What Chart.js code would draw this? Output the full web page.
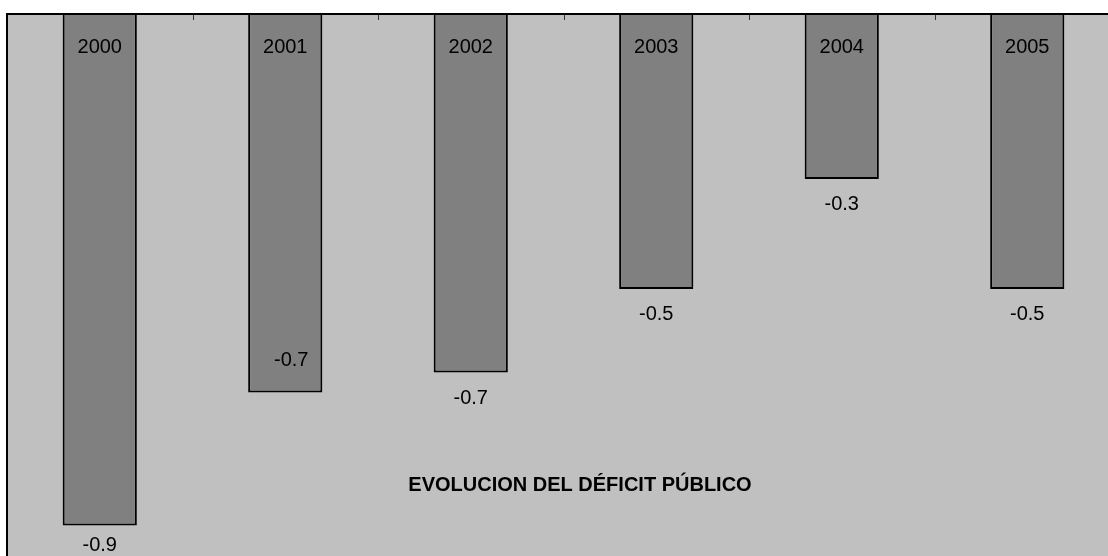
<!DOCTYPE html>
<html>
<head>
<meta charset="utf-8">
<script src="https://cdn.jsdelivr.net/npm/chart.js@4/dist/chart.umd.min.js"></script>
<style>
  html,body{margin:0;padding:0;background:#fff;overflow:hidden;width:1108px;height:556px;}
  #chart{position:absolute;left:0;top:0;}
</style>
</head>
<body>
<canvas id="chart" width="1122" height="566" style="width:1122px;height:566px"></canvas>
<script>
// datos del gráfico
const years = ['2000','2001','2002','2003','2004','2005'];
const deficit = [-0.93, -0.688, -0.652, -0.5, -0.3, -0.5];
const chartTitle = 'EVOLUCION DEL DÉFICIT PÚBLICO';

const FONT = '"Liberation Sans", Arial, sans-serif';

// fondo gris, ejes, marcas y textos
const decorPlugin = {
  id:'decor',
  beforeDatasetsDraw(chart){
    const {ctx, chartArea:a} = chart;
    ctx.save();
    ctx.fillStyle = '#C0C0C0';
    ctx.fillRect(a.left, a.top, a.right-a.left, a.bottom-a.top);
    ctx.restore();
  },
  afterDatasetsDraw(chart){
    const {ctx, chartArea:a, scales} = chart;
    const xs = scales.x;
    const meta = chart.getDatasetMeta(0);
    ctx.save();
    // marcas entre categorías
    ctx.strokeStyle = '#333';
    ctx.lineWidth = 1;
    for(let i=1;i<years.length;i++){
      const x = Math.round((xs.getPixelForValue(i-1)+xs.getPixelForValue(i))/2)+0.5;
      ctx.beginPath(); ctx.moveTo(x, a.top); ctx.lineTo(x, a.top+6); ctx.stroke();
    }
    // bordes superior e izquierdo
    ctx.strokeStyle = '#000';
    ctx.lineWidth = 2;
    ctx.beginPath();
    ctx.moveTo(a.left, chart.height);
    ctx.lineTo(a.left, a.top);
    ctx.lineTo(chart.width, a.top);
    ctx.stroke();

    ctx.fillStyle = '#000';
    ctx.font = '20px ' + FONT;
    ctx.textAlign = 'center';
    ctx.textBaseline = 'alphabetic';
    meta.data.forEach((bar,i)=>{
      // año dentro de la barra
      ctx.fillText(years[i], bar.x, a.top + 39);
      // valor debajo de la barra
      const label = deficit[i].toFixed(1);
      let x = bar.x, y = bar.y + 31;
      if(i===1){ x = bar.x + 6; y = bar.y - 26; }
      if(y > 551) y = 551;
      ctx.fillText(label, x, y);
    });
    // título
    ctx.font = 'bold 20px ' + FONT;
    ctx.fillText(chartTitle, 580, 491);
    ctx.restore();
  }
};

new Chart(document.getElementById('chart').getContext('2d'), {
  type:'bar',
  data:{
    labels: years,
    datasets:[{
      data: deficit,
      backgroundColor:'#808080',
      borderColor:'#000',
      borderWidth:2,
      barPercentage:0.4,
      categoryPercentage:1
    }]
  },
  options:{
    responsive:false,
    animation:false,
    devicePixelRatio:1,
    layout:{padding:{left:7, top:14, right:2, bottom:2}},
    plugins:{legend:{display:false}, tooltip:{enabled:false}, title:{display:false}},
    scales:{
      x:{display:false, offset:true},
      y:{display:false, min:-1, max:0}
    }
  },
  plugins:[decorPlugin]
});
</script>
</body>
</html>
